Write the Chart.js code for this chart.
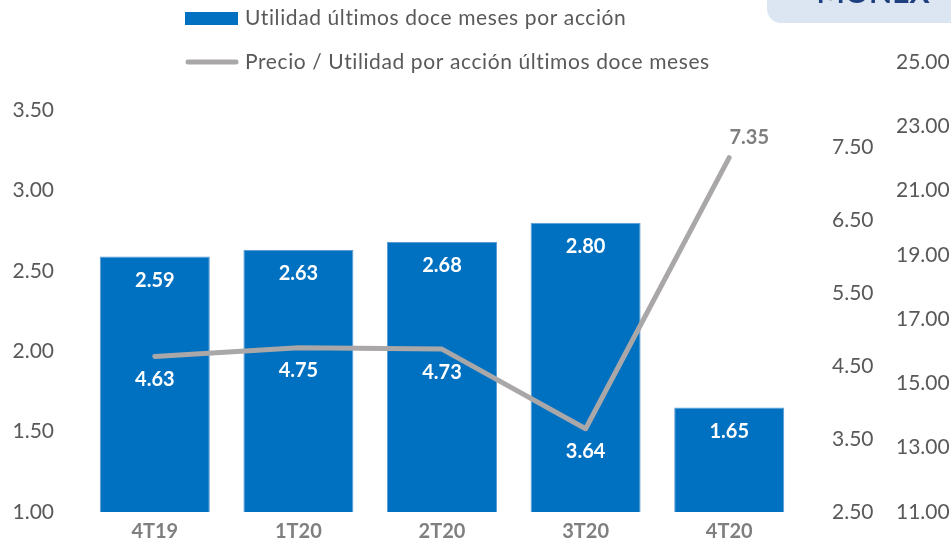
<!DOCTYPE html>
<html>
<head>
<meta charset="utf-8">
<script src="https://cdn.jsdelivr.net/npm/chart.js@4/dist/chart.umd.min.js"></script>
<style>
  html, body { margin: 0; padding: 0; background: #fff; }
  #wrap { position: relative; width: 951px; height: 539px; overflow: hidden; }
</style>
</head>
<body>
<div id="wrap"><canvas id="earningsChart" width="951" height="539"></canvas></div>
<script>
const quarters = ['4T19', '1T20', '2T20', '3T20', '4T20'];
const earnings = [2.59, 2.63, 2.68, 2.80, 1.65];
const priceEarnings = [4.63, 4.75, 4.73, 3.64, 7.35];
const leftTicks = [1.00, 1.50, 2.00, 2.50, 3.00, 3.50];
const rightTicks = [2.50, 3.50, 4.50, 5.50, 6.50, 7.50];
const outerTicks = [11.00, 13.00, 15.00, 17.00, 19.00, 21.00, 23.00, 25.00];
const seriesNames = ['Utilidad últimos doce meses por acción', 'Precio / Utilidad por acción últimos doce meses'];

const BLUE = '#0070C0';
const GREY = '#A9A7A7';
const FONT = 'Lato';

Chart.defaults.font.family = FONT;

function fixedTicks(list) {
  return scale => { scale.ticks = list.map(v => ({ value: v })); };
}

function sideAxis(position, min, max, list, pad, width, weight) {
  return {
    position: position,
    min: min,
    max: max,
    weight: weight,
    afterBuildTicks: fixedTicks(list),
    // fixed width, and no extra label padding eating into the plot height
    afterFit: s => { s.width = width; s.paddingTop = 0; s.paddingBottom = 0; },
    grid: { display: false, drawTicks: false },
    border: { display: false },
    ticks: {
      padding: pad,
      color: '#595959',
      font: { size: 21 },
      callback: v => Number(v).toFixed(2)
    }
  };
}

// white labels inside the bars, line labels under the point (or above when outside a bar)
const valueLabels = {
  id: 'valueLabels',
  afterDatasetsDraw(chart) {
    const ctx = chart.ctx;
    const bars = chart.getDatasetMeta(0).data;
    const pts = chart.getDatasetMeta(1).data;
    ctx.save();
    ctx.font = 'bold 20px ' + FONT;
    ctx.textAlign = 'center';
    ctx.textBaseline = 'middle';
    bars.forEach((bar, i) => {
      ctx.fillStyle = '#fff';
      ctx.fillText(earnings[i].toFixed(2), bar.x, bar.y + 24);
    });
    pts.forEach((pt, i) => {
      if (pt.y > bars[i].y) {
        ctx.fillStyle = '#fff';
        ctx.fillText(priceEarnings[i].toFixed(2), pt.x, pt.y + 23);
      } else {
        ctx.fillStyle = '#7F7F7F';
        ctx.fillText(priceEarnings[i].toFixed(2), pt.x + 20, pt.y - 20);
      }
    });
    ctx.restore();
  }
};

// legend stacked on two rows + the page tab in the corner
const decorations = {
  id: 'decorations',
  afterDraw(chart) {
    const ctx = chart.ctx;
    ctx.save();
    ctx.fillStyle = '#DCE6F2';
    ctx.beginPath();
    ctx.roundRect(767, -30, 240, 53, 14);
    ctx.fill();
    ctx.fillStyle = '#1F3F7F';
    ctx.font = 'bold 30px ' + FONT;
    ctx.textAlign = 'center';
    ctx.textBaseline = 'alphabetic';
    ctx.fillText('MONEX', 873, 3);

    ctx.font = '21px ' + FONT;
    ctx.letterSpacing = '0.6px';
    ctx.textAlign = 'left';
    ctx.textBaseline = 'middle';
    ctx.fillStyle = BLUE;
    ctx.fillRect(185, 12, 53, 13);
    ctx.fillStyle = '#595959';
    ctx.fillText(chart.data.datasets[0].label, 245, 18);

    ctx.strokeStyle = GREY;
    ctx.lineWidth = 5;
    ctx.lineCap = 'round';
    ctx.beginPath();
    ctx.moveTo(188, 62);
    ctx.lineTo(236, 62);
    ctx.stroke();
    ctx.fillText(chart.data.datasets[1].label, 245, 62);
    ctx.restore();
  }
};

new Chart(document.getElementById('earningsChart'), {
  type: 'bar',
  data: {
    labels: quarters,
    datasets: [
      {
        type: 'bar',
        label: seriesNames[0],
        data: earnings,
        yAxisID: 'y',
        backgroundColor: BLUE,
        borderColor: '#5A9BD8',
        borderWidth: 1,
        borderSkipped: false,
        categoryPercentage: 1,
        barPercentage: 0.766,
        order: 2
      },
      {
        type: 'line',
        label: seriesNames[1],
        data: priceEarnings,
        yAxisID: 'y1',
        borderColor: GREY,
        borderWidth: 5,
        borderCapStyle: 'round',
        borderJoinStyle: 'round',
        pointRadius: 0,
        tension: 0,
        order: 1
      }
    ]
  },
  options: {
    responsive: false,
    animation: false,
    layout: { padding: { top: 62, left: 0, right: 0, bottom: 0 } },
    plugins: { legend: { display: false }, tooltip: { enabled: false } },
    scales: {
      x: {
        grid: { display: false, drawTicks: false },
        border: { display: false },
        afterFit: s => { s.height = 27; },
        ticks: { padding: 8, color: '#7F7F7F', font: { size: 20, weight: 'bold' } }
      },
      y: sideAxis('left', 1, 3.8, leftTicks, 29, 83, 0),
      y1: sideAxis('right', 2.5, 8.66, rightTicks, 31, 80, 0),
      y2: sideAxis('right', 11, 25, outerTicks, 15, 70, 1)
    }
  },
  plugins: [valueLabels, decorations]
});
</script>
</body>
</html>
